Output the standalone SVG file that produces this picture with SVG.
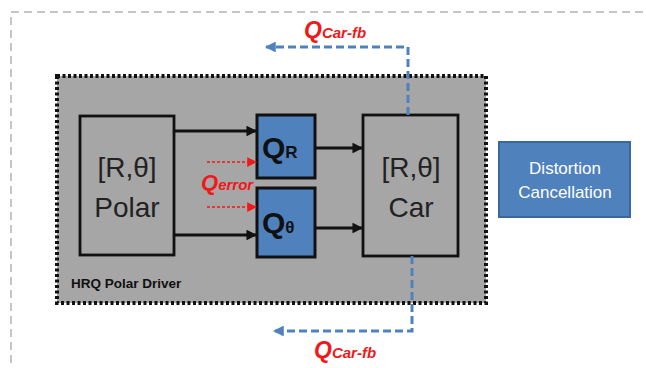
<svg xmlns="http://www.w3.org/2000/svg" width="646" height="368" viewBox="0 0 646 368">
<defs>
<style>
.lbl{font-family:"Liberation Sans",Arial,sans-serif;fill:#222;text-anchor:middle}
.big{font-size:28px}
.qb{font-family:"Liberation Sans",Arial,sans-serif;font-weight:bold;fill:#111}
.red{font-family:"Liberation Sans",Arial,sans-serif;font-weight:bold;font-style:italic;fill:#f01818}
.box{fill:#a6a6a6;stroke:#111;stroke-width:2.8}
.qbox{fill:#4f81bd;stroke:#111;stroke-width:3}
.blk{stroke:#111;stroke-width:2.8;fill:none}
.rd{stroke:#f01818;stroke-width:1.5;stroke-dasharray:3 2;fill:none}
.fb{stroke:#4f81bd;stroke-width:3;stroke-dasharray:8 4;fill:none}
</style>
<marker id="ab" viewBox="0 0 10 10" refX="9" refY="5" markerWidth="4.2" markerHeight="3.8" orient="auto" markerUnits="strokeWidth"><path d="M0,0L10,5L0,10z" fill="#111"/></marker>
<marker id="ar" viewBox="0 0 10 10" refX="9" refY="5" markerWidth="7.5" markerHeight="6.5" orient="auto" markerUnits="strokeWidth"><path d="M0,0L10,5L0,10z" fill="#f01818"/></marker>
<marker id="af" viewBox="0 0 10 10" refX="9" refY="5" markerWidth="4" markerHeight="3.6" orient="auto" markerUnits="strokeWidth"><path d="M0,0L10,5L0,10z" fill="#4f81bd"/></marker>
</defs>
<rect width="646" height="368" fill="#fff"/>
<g id="frame"><rect x="11" y="12" width="660" height="380" fill="none" stroke="#8c8c8c" stroke-width="1" stroke-dasharray="8 5"/></g>
<g id="driver">
<rect x="57" y="76" width="429" height="227" fill="#a6a6a6" stroke="#111" stroke-width="4" stroke-dasharray="3 2.5"/>
<text x="71" y="288" font-family="Liberation Sans,Arial,sans-serif" font-weight="bold" font-size="13.5" fill="#111">HRQ Polar Driver</text>
</g>
<g id="polar">
<rect class="box" x="80" y="116" width="94" height="139"/>
<text class="lbl big" x="127" y="177">[R,θ]</text>
<text class="lbl big" x="127" y="217">Polar</text>
</g>
<g id="qr">
<rect class="qbox" x="257" y="115" width="58" height="63"/>
<text class="qb" x="262" y="158" font-size="30">Q<tspan font-size="17">R</tspan></text>
</g>
<g id="qtheta">
<rect class="qbox" x="257" y="188" width="58" height="69"/>
<text class="qb" x="262" y="233" font-size="30">Q<tspan font-size="17">θ</tspan></text>
</g>
<g id="car">
<rect class="box" x="363" y="115" width="95" height="141"/>
<text class="lbl big" x="411" y="177">[R,θ]</text>
<text class="lbl big" x="411" y="217">Car</text>
</g>
<g id="distortion">
<rect x="499" y="142" width="131" height="75" fill="#4f81bd" stroke="#3a679c" stroke-width="2"/>
<text x="565" y="174" font-family="Liberation Sans,Arial,sans-serif" font-size="17" fill="#fff" text-anchor="middle">Distortion</text>
<text x="565" y="198" font-family="Liberation Sans,Arial,sans-serif" font-size="17" fill="#fff" text-anchor="middle">Cancellation</text>
</g>
<g id="connectors">
<line class="blk" x1="174" y1="131" x2="256" y2="131" marker-end="url(#ab)"/>
<line class="blk" x1="174" y1="235" x2="256" y2="235" marker-end="url(#ab)"/>
<line class="blk" x1="315" y1="148" x2="362" y2="148" marker-end="url(#ab)"/>
<line class="blk" x1="315" y1="228" x2="362" y2="228" marker-end="url(#ab)"/>
<line class="rd" x1="207" y1="162" x2="256" y2="162" marker-end="url(#ar)"/>
<line class="rd" x1="207" y1="207" x2="256" y2="207" marker-end="url(#ar)"/>
<path class="fb" d="M408,115V47H266" marker-end="url(#af)"/>
<path class="fb" d="M412,256V331H274" marker-end="url(#af)"/>
</g>
<g id="labels">
<text class="red" x="201" y="190" font-size="22">Q<tspan font-size="15">error</tspan></text>
<text class="red" x="304" y="38" font-size="23">Q<tspan font-size="15">Car-fb</tspan></text>
<text class="red" x="314" y="358" font-size="23">Q<tspan font-size="15">Car-fb</tspan></text>
</g>
</svg>
